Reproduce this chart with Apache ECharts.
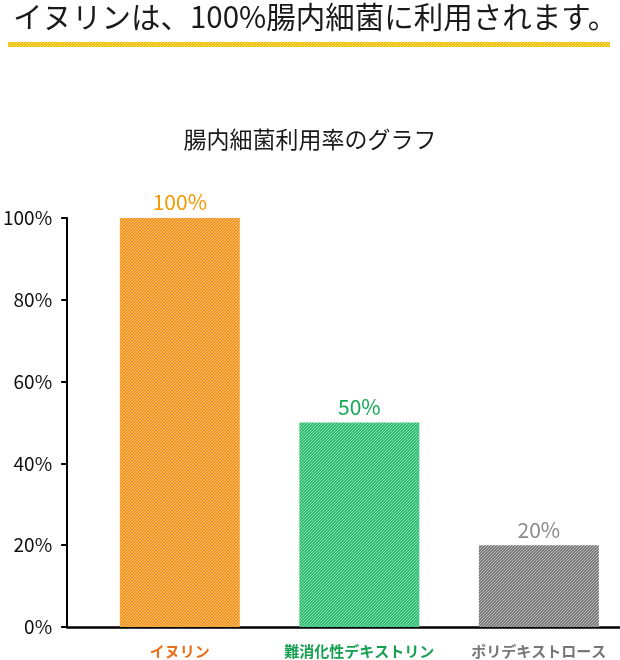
<!DOCTYPE html>
<html><head><meta charset="utf-8">
<script src="https://cdn.jsdelivr.net/npm/echarts@6/dist/echarts.min.js"></script>
<style>html,body{margin:0;padding:0;background:#fff}#c{width:620px;height:660px}</style>
</head><body><div id="c"></div>
<script>
const titleText = 'イヌリンは、100%腸内細菌に利用されます。';
const subtitleText = '腸内細菌利用率のグラフ';
const categories = ['イヌリン', '難消化性デキストリン', 'ポリデキストロース'];
const values = [100, 50, 20];
const yMin = 0, yMax = 100, yStep = 20;
const barColors = [['#f7941d', '#fcc277'], ['#2fbd72', '#88dcae'], ['#7b7b7b', '#b9b9b9']];
const labelColors = ['#f39800', '#14aa55', '#8a8a8a'];
const catLabelColors = ['#ea6f1a', '#16a052', '#777777'];
const FONT = '"Noto Sans CJK JP", "Noto Sans", sans-serif';

function stripe(base, light, size) {
  const c = document.createElement('canvas');
  c.width = size; c.height = size;
  const g = c.getContext('2d');
  g.fillStyle = base; g.fillRect(0, 0, size, size);
  g.fillStyle = light;
  for (let i = 0; i < size; i++) g.fillRect(i, size - 1 - i, 1, 1);
  return { image: c, repeat: 'repeat' };
}

const catIdx = categories.map((c, i) => i);
const chart = echarts.init(document.getElementById('c'), null, { renderer: 'canvas' });
chart.setOption({
  animation: false,
  backgroundColor: '#fff',
  textStyle: { fontFamily: FONT },
  graphic: [
    { type: 'text', left: 13, top: 2, style: { text: titleText, font: '29.5px ' + FONT, fill: '#1a1a1a' } },
    { type: 'rect', shape: { x: 8, y: 42, width: 602, height: 5 }, style: { fill: stripe('#f2bf00', '#fbe17a', 3) } },
    { type: 'text', left: 'center', top: 128, style: { text: subtitleText, font: '23px ' + FONT, fill: '#1a1a1a' } }
  ],
  grid: { left: 61, right: 0, top: 218, bottom: 33 },
  xAxis: {
    type: 'value', min: -0.628, max: 2.452,
    axisLine: { show: true, onZero: false, lineStyle: { color: '#000', width: 2.5 } },
    axisTick: { show: false }, splitLine: { show: false },
    axisLabel: { customValues: catIdx, margin: 17, fontSize: 15, fontWeight: 'bold', fontFamily: FONT,
      formatter: v => categories[Math.round(v)] || '', color: v => catLabelColors[Math.round(v)] }
  },
  yAxis: {
    type: 'value', min: yMin, max: yMax, interval: yStep,
    axisLine: { show: true, onZero: false, lineStyle: { color: '#000', width: 2 } },
    axisTick: { show: true, length: 6, lineStyle: { color: '#000', width: 2 } },
    axisLabel: { margin: 15, fontSize: 19, color: '#111', fontFamily: FONT, formatter: v => v + '%' },
    splitLine: { show: false }
  },
  series: [{
    type: 'bar', barWidth: 120,
    data: values.map((v, i) => ({
      value: [catIdx[i], v],
      itemStyle: { color: stripe(barColors[i][0], barColors[i][1], 3) },
      label: { show: true, position: 'top', distance: 5, fontSize: 21, fontFamily: FONT, color: labelColors[i], formatter: p => p.value[1] + '%' }
    }))
  }]
});
</script></body></html>
